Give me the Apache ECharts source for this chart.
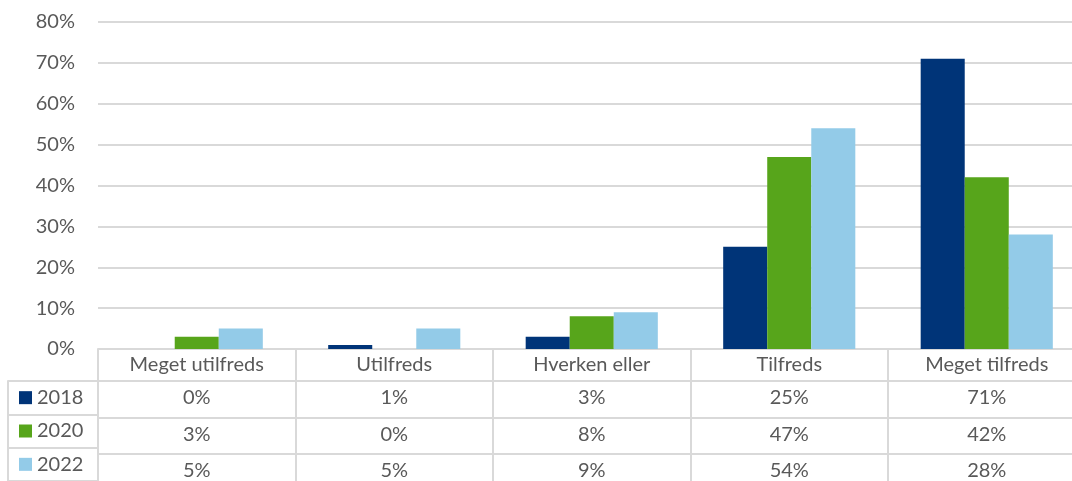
<!DOCTYPE html>
<html>
<head>
<meta charset="utf-8">
<script src="https://cdn.jsdelivr.net/npm/echarts@6/dist/echarts.min.js"></script>
<style>
html,body{margin:0;padding:0;background:#fff;overflow:hidden;width:1072px;height:481px;}
#c{width:1088px;height:481px;}
</style>
</head>
<body>
<div id="c"></div>
<script>
const categories = ['Meget utilfreds', 'Utilfreds', 'Hverken eller', 'Tilfreds', 'Meget tilfreds'];
const seriesNames = ['2018', '2020', '2022'];
const values2018 = [0, 1, 3, 25, 71];
const values2020 = [3, 0, 8, 47, 42];
const values2022 = [5, 5, 9, 54, 28];
const yTicks = [0, 10, 20, 30, 40, 50, 60, 70, 80];
const colors = ['#003478', '#57a51b', '#93cbe8'];

const allValues = [values2018, values2020, values2022];
const FONT = 'Lato';
const TXT = '#595959';
const LINE = '#d9d9d9';
const FS = 20;

const chart = echarts.init(document.getElementById('c'), null, {renderer: 'canvas'});

const rowOffsets = [32, 69, 105];
const xAxes = [{
  type: 'category',
  gridIndex: 0,
  data: categories,
  position: 'bottom',
  boundaryGap: true,
  axisLine: {show: true, lineStyle: {color: LINE, width: 2}},
  axisTick: {show: true, interval: 0, length: 140, lineStyle: {color: LINE, width: 2}},
  axisLabel: {show: true, interval: 0, margin: 6, color: TXT, fontFamily: FONT, fontSize: FS},
  splitLine: {show: false}
}];
allValues.forEach((vals, i) => {
  xAxes.push({
    type: 'category',
    gridIndex: 0,
    data: categories,
    position: 'bottom',
    offset: rowOffsets[i],
    axisLine: {show: true, lineStyle: {color: LINE, width: 2}},
    axisTick: {show: false},
    axisLabel: {
      show: true, interval: 0, margin: 7, color: TXT, fontFamily: FONT, fontSize: FS,
      formatter: (v, idx) => vals[idx] + '%'
    },
    splitLine: {show: false}
  });
});
xAxes.push({type: 'value', gridIndex: 1, show: false, min: 0, max: 1});

const rich = {t: {color: TXT, fontFamily: FONT, fontSize: FS, padding: [0, 0, 0, 5]}};
colors.forEach((c, i) => {
  rich['s' + i] = {width: 13, height: 13, backgroundColor: c};
});

const option = {
  animation: false,
  backgroundColor: '#fff',
  textStyle: {fontFamily: FONT},
  grid: [
    {left: 98, width: 987.5, top: 22, height: 327, containLabel: false},
    {left: 8, width: 90, top: 381, height: 109.5, containLabel: false}
  ],
  xAxis: xAxes,
  yAxis: [
    {
      type: 'value',
      gridIndex: 0,
      min: yTicks[0],
      max: yTicks[yTicks.length - 1],
      interval: 10,
      axisLine: {show: false},
      axisTick: {show: false},
      axisLabel: {margin: 23, color: TXT, fontFamily: FONT, fontSize: FS, formatter: '{value}%'},
      splitLine: {show: true, lineStyle: {color: LINE, width: 2}}
    },
    {
      type: 'category',
      gridIndex: 1,
      data: seriesNames,
      inverse: true,
      position: 'left',
      boundaryGap: true,
      axisLine: {show: true, lineStyle: {color: LINE, width: 2}},
      axisTick: {show: true, inside: true, interval: 0, length: 90, lineStyle: {color: LINE, width: 2}},
      axisLabel: {
        show: true, inside: true, interval: 0, margin: 11,
        formatter: (v, idx) => '{s' + idx + '|}{t|' + v + '}',
        rich: rich
      },
      splitLine: {show: false}
    }
  ],
  series: allValues.map((vals, i) => ({
    name: seriesNames[i],
    type: 'bar',
    xAxisIndex: 0,
    yAxisIndex: 0,
    data: vals,
    barWidth: '22.3%',
    barGap: '0%',
    itemStyle: {color: colors[i]}
  }))
};
chart.setOption(option);
</script>
</body>
</html>
